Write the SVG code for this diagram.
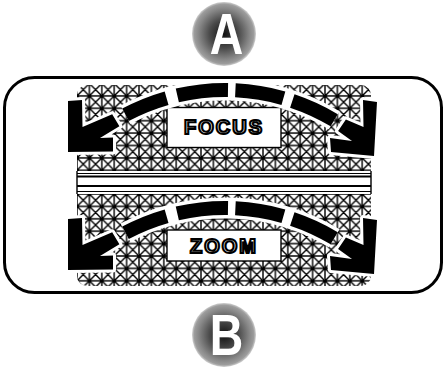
<svg xmlns="http://www.w3.org/2000/svg" width="447" height="367" viewBox="0 0 447 367">
<style>
.seg{fill:none;stroke:#000;stroke-width:14;stroke-linecap:butt}
.halo{fill:none;stroke:#fff;stroke-width:21;stroke-linecap:butt}
.head{fill:#000;stroke:none}
.headhalo{fill:#fff;stroke:#fff;stroke-width:6;stroke-linejoin:round}
.lbl{font-family:"Liberation Sans",Arial,sans-serif;font-weight:bold;font-size:20px;fill:#fff;stroke:#000;stroke-width:2.1;text-anchor:middle;letter-spacing:2px}
.big{font-family:"Liberation Sans",Arial,sans-serif;font-weight:bold;font-size:58px;fill:#fff;text-anchor:middle}
</style>
<defs>
<radialGradient id="g" cx="0.5" cy="0.5" r="0.5">
<stop offset="0" stop-color="#111"/>
<stop offset="0.45" stop-color="#4a4a4a"/>
<stop offset="0.8" stop-color="#888"/>
<stop offset="0.93" stop-color="#9c9c9c"/>
<stop offset="1" stop-color="#d0d0d0"/>
</radialGradient>
<pattern id="hatch" patternUnits="userSpaceOnUse" x="77" y="83.5" width="12.4" height="12.4">
<path d="M0,0H12.4M0,12.4H12.4M0,0V12.4M12.4,0V12.4M0,0L12.4,12.4M12.4,0L0,12.4" stroke="#000" stroke-width="1.4" fill="none"/>
</pattern>
<pattern id="hatch2" patternUnits="userSpaceOnUse" x="77" y="194" width="12.4" height="12.4">
<path d="M0,0H12.4M0,12.4H12.4M0,0V12.4M12.4,0V12.4M0,0L12.4,12.4M12.4,0L0,12.4" stroke="#000" stroke-width="1.4" fill="none"/>
</pattern>
<g id="arcset">
<path class="halo" d="M125.5,114.8A212,212 0 0 1 334.2,120.3"/>
<polygon class="headhalo" points="68,152 68,101 82,100 82.5,127 112.2,114.3 119.4,126.3 100,138 113,137.5 113,151.5"/>
<polygon class="headhalo" points="374,156 377,102 363,100 363.5,127 345.9,119.4 338.1,131 352,141 330,138 331,152"/>
<path class="seg" d="M125.5,114.8A212,212 0 0 1 166.6,98.2"/>
<path class="seg" d="M177.3,95.4A212,212 0 0 1 228,90"/>
<path class="seg" d="M235.4,90.3A212,212 0 0 1 283.4,98.2"/>
<path class="seg" d="M292.3,101A212,212 0 0 1 334.2,120.3"/>
<polygon class="head" points="68,152 68,101 82,100 82.5,127 112.2,114.3 119.4,126.3 100,138 113,137.5 113,151.5"/>
<polygon class="head" points="374,156 377,102 363,100 363.5,127 345.9,119.4 338.1,131 352,141 330,138 331,152"/>
</g>
</defs>
<rect width="447" height="367" fill="#fff"/>
<g id="frame">
<rect x="4.5" y="77.5" width="437" height="215" rx="30" fill="#fff" stroke="#000" stroke-width="3"/>
</g>
<g id="panel">
<path d="M77,171V95A10,10 0 0 1 87,85H361A10,10 0 0 1 371,95V171Z" fill="url(#hatch)"/>
<path d="M77,194V276A10,10 0 0 0 87,286H361A10,10 0 0 0 371,276V194Z" fill="url(#hatch2)"/>
<rect x="77" y="171" width="294" height="23" fill="#fff"/>
<path d="M77,171V194M371,171V194" stroke="#000" stroke-width="1.4"/>
<path d="M77,173.5H371M77,191.5H371" stroke="#000" stroke-width="1"/>
<path d="M77,176.5H371M77,186H371" stroke="#000" stroke-width="2"/>
</g>
<g id="focus">
<rect x="167" y="107.5" width="114" height="40" fill="#fff" stroke="#000" stroke-width="1.4"/>
<text class="lbl" x="224" y="134">FOCUS</text>
</g>
<g id="zoom">
<rect x="167" y="230" width="114" height="31" fill="#fff" stroke="#000" stroke-width="1.4"/>
<text class="lbl" x="224" y="252.5">ZOOM</text>
</g>
<g id="connectors">
<use href="#arcset"/>
<use href="#arcset" transform="translate(0,118)"/>
</g>
<g id="nodeA">
<circle cx="224" cy="34" r="32" fill="url(#g)"/>
<text class="big" transform="translate(226.5,53.5) scale(0.8,1)">A</text>
</g>
<g id="nodeB">
<circle cx="224" cy="335" r="32" fill="url(#g)"/>
<text class="big" transform="translate(226.5,355) scale(0.8,1)">B</text>
</g>
</svg>
